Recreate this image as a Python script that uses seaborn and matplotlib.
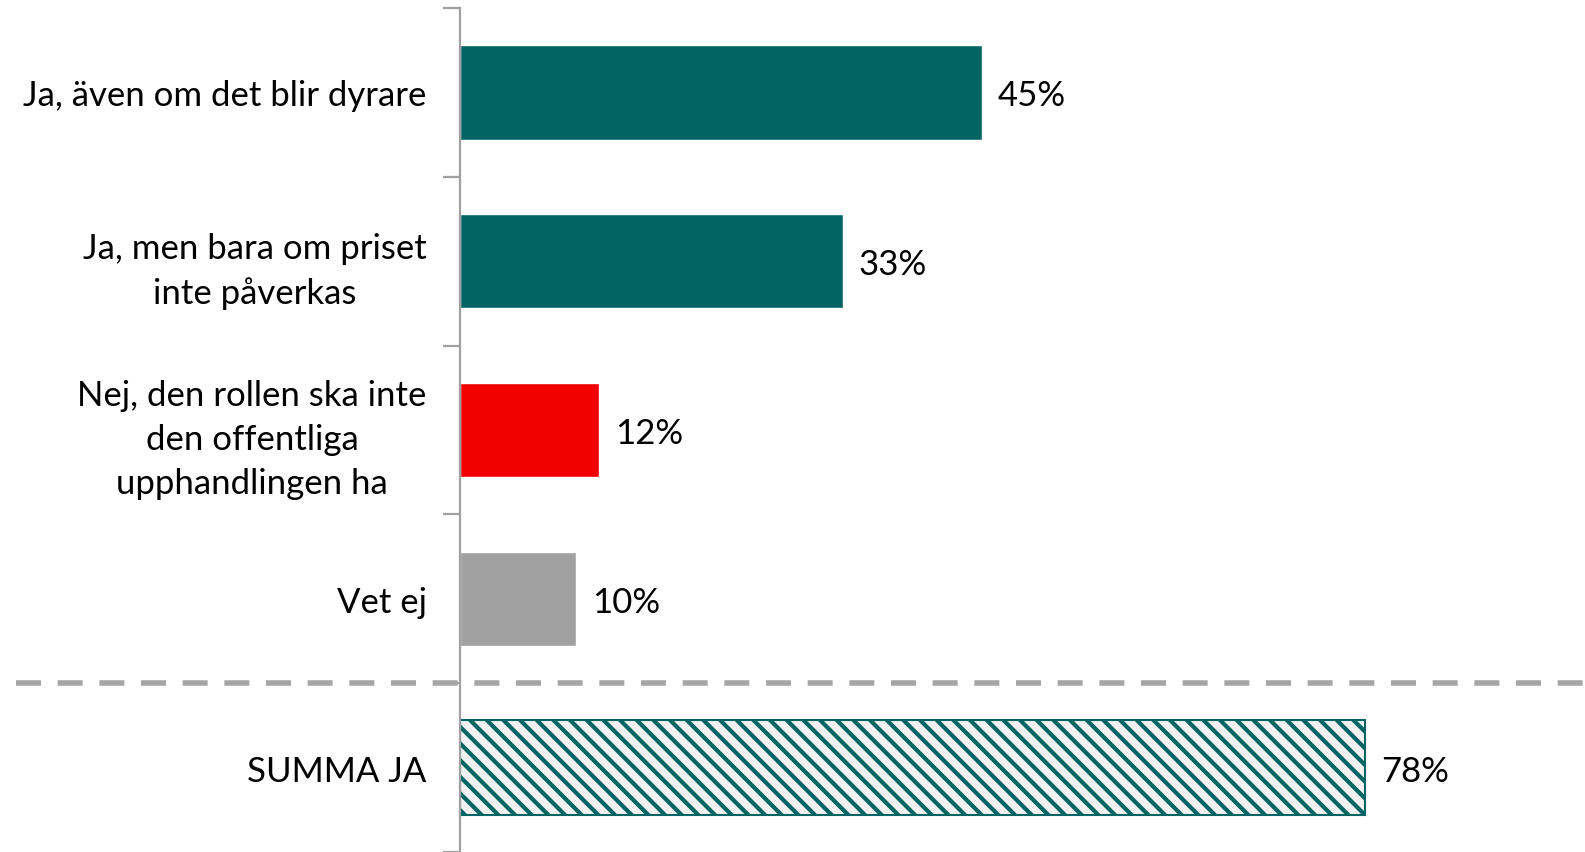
import seaborn as sns
import matplotlib.pyplot as plt
import pandas as pd

categories = [
    "Ja, även om det blir dyrare",
    "Ja, men bara om priset\ninte påverkas",
    "Nej, den rollen ska inte\nden offentliga\nupphandlingen ha",
    "Vet ej",
    "SUMMA JA",
]
values = [45, 33, 12, 10, 78]
colors = ["#016563", "#016563", "#F20000", "#A1A1A1", "#F2F2F2"]

df = pd.DataFrame({"kategori": categories, "andel": values})

sns.set_style("white")
plt.rcParams["font.family"] = ["Lato", "DejaVu Sans"]
plt.rcParams["hatch.linewidth"] = 3.0
plt.rcParams["hatch.color"] = "#016563"

fig = plt.figure(figsize=(15.85, 8.53), dpi=100)
ax = fig.add_axes([460 / 1585, 0.0, 1 - 460 / 1585, 1 - 9 / 853])

sns.barplot(data=df, x="andel", y="kategori", hue="kategori", palette=colors,
            legend=False, width=0.56, saturation=1, ax=ax)

# summary bar with hatch
last = ax.patches[-1]
last.set_hatch("\\\\")
last.set_edgecolor("#016563")
last.set_linewidth(1.5)

for p, v in zip(ax.patches, values):
    y = p.get_y() + p.get_height() / 2
    ax.text(p.get_width() + 1.4, y, f"{v}%", va="center_baseline", ha="left",
            fontsize=25, color="black")

ax.set_xlim(0, 97)
ax.set_ylim(4.5, -0.5)
ax.set_xlabel("")
ax.set_ylabel("")
ax.set_xticks([])

for side in ["top", "right", "bottom"]:
    ax.spines[side].set_visible(False)
ax.spines["left"].set_color("#A0A0A0")
ax.spines["left"].set_linewidth(1.6)

ax.tick_params(axis="y", which="major", left=False, length=0, pad=24,
               labelsize=25, labelcolor="black")
ax.set_yticks([-0.5, 0.5, 1.5, 2.5, 3.5, 4.5], minor=True)
ax.tick_params(axis="y", which="minor", left=True, length=12, width=1.6,
               color="#A0A0A0")
for lbl in ax.get_yticklabels():
    lbl.set_multialignment("center")
    lbl.set_linespacing(1.45)

# dashed separator before the summary row
ax.plot([-0.395, 1.0], [3.5, 3.5], transform=ax.get_yaxis_transform(),
        color="#A6A6A6", linewidth=4, linestyle=(0, (4.5, 3)), clip_on=False)

fig.savefig("out.png", dpi=100)
